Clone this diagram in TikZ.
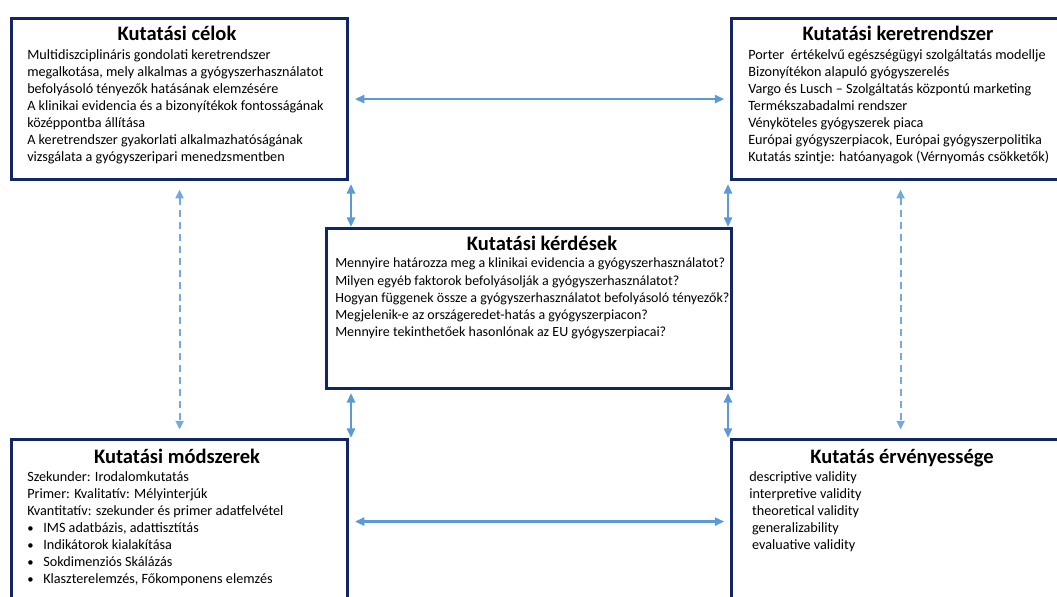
\documentclass[tikz,border=0pt]{standalone}
\usepackage{fontspec}
\setmainfont{Carlito}
\usetikzlibrary{arrows.meta,calc}
\definecolor{navy}{RGB}{16,38,102}
\definecolor{skyb}{RGB}{91,155,213}
\tikzset{
  box/.style={draw=navy,line width=2.2pt,inner sep=0pt,anchor=north west},
  ttl/.style={font=\fontsize{14.6}{16}\selectfont\bfseries,anchor=base,inner sep=0pt},
  txt/.style={font=\fontsize{10.1}{12.1}\selectfont,align=left,anchor=north west,inner sep=0pt},
  dar/.style={{Triangle[length=2.4mm,width=2mm]}-{Triangle[length=2.4mm,width=2mm]},
              draw=skyb,line width=1.8pt},
  dsh/.style={{Triangle[length=2.2mm,width=2mm]}-{Triangle[length=2.2mm,width=2mm]},
              draw=skyb!85,line width=1.4pt,dash pattern=on 5pt off 3.5pt},
}
\newcommand{\bl}{\makebox[0.4cm][l]{\small\textbullet}}

\begin{document}
\begin{tikzpicture}[x=0.025cm,y=-0.025cm]
  \useasboundingbox (0,0) rectangle (1057,597);
  \clip (0,0) rectangle (1057,597);
  % boxes
  \node[box,minimum width=8.4cm,minimum height=4.025cm]   (celok)   at (10,17)  {};
  \node[box,minimum width=8.45cm,minimum height=4.025cm]  (keret)   at (730,17) {};
  \node[box,minimum width=10.125cm,minimum height=4cm]    (kerdes)  at (325,227){};
  \node[box,minimum width=8.4cm,minimum height=4.1cm]     (modszer) at (10,438) {};
  \node[box,minimum width=8.45cm,minimum height=4.1cm]    (ervenyes)at (730,438){};
  % titles and texts
  \node[ttl] (celokT) at (177,41) {Kutatási célok};
  \node[txt] (celokB) at (27,49) {Multidiszciplináris gondolati keretrendszer\\
    megalkotása, mely alkalmas a gyógyszerhasználatot\\
    befolyásoló tényezők hatásának elemzésére\\
    A klinikai evidencia és a bizonyítékok fontosságának\\
    középpontba állítása\\
    A keretrendszer gyakorlati alkalmazhatóságának\\
    vizsgálata a gyógyszeripari menedzsmentben};
  \node[ttl] (keretT) at (898,41) {Kutatási keretrendszer};
  \node[txt] (keretB) at (748,49) {Porter\ \ értékelvű egészségügyi szolgáltatás modellje\\
    Bizonyítékon alapuló gyógyszerelés\\
    Vargo és Lusch – Szolgáltatás központú marketing\\
    Termékszabadalmi rendszer\\
    Vényköteles gyógyszerek piaca\\
    Európai gyógyszerpiacok, Európai gyógyszerpolitika\\
    Kutatás szintje: hatóanyagok (Vérnyomás csökketők)};
  \node[ttl] (kerdesT) at (542,250) {Kutatási kérdések};
  \node[txt,font=\fontsize{9.95}{12.1}\selectfont] (kerdesB) at (335,258) {Mennyire határozza meg a klinikai evidencia a gyógyszerhasználatot?\\
    Milyen egyéb faktorok befolyásolják a gyógyszerhasználatot?\\
    Hogyan függenek össze a gyógyszerhasználatot befolyásoló tényezők?\\
    Megjelenik-e az országeredet-hatás a gyógyszerpiacon?\\
    Mennyire tekinthetőek hasonlónak az EU gyógyszerpiacai?};
  \node[ttl] (modszerT) at (177,463) {Kutatási módszerek};
  \node[txt] (modszerB) at (27,471) {Szekunder: Irodalomkutatás\\
    Primer: Kvalitatív: Mélyinterjúk\\
    Kvantitatív: szekunder és primer adatfelvétel\\
    \bl IMS adatbázis, adattisztítás\\
    \bl Indikátorok kialakítása\\
    \bl Sokdimenziós Skálázás\\
    \bl Klaszterelemzés, Főkomponens elemzés};
  \node[ttl] (ervenyesT) at (902,463) {Kutatás érvényessége};
  \node[txt] (ervenyesB) at (749,471) {descriptive validity\\
    interpretive validity\\
    \hspace{2pt}theoretical validity\\
    \hspace{2pt}generalizability\\
    \hspace{2pt}evaluative validity};
  % connectors
  \coordinate (vl) at (351,0);
  \coordinate (vr) at (728,0);
  \draw[dar,shorten <=4pt,shorten >=4pt] (celok.east) -- (keret.west);
  \draw[dar,shorten <=4pt,shorten >=4pt] (modszer.east) -- (ervenyes.west);
  \draw[dar,shorten <=2pt] (vl |- celok.south) -- (vl |- kerdes.north);
  \draw[dar,shorten <=2pt] (vr |- keret.south) -- (vr |- kerdes.north);
  \draw[dar,shorten <=2pt] (vl |- kerdes.south) -- (vl |- modszer.north);
  \draw[dar,shorten <=2pt] (vr |- kerdes.south) -- (vr |- ervenyes.north);
  \draw[dsh,shorten <=6pt,shorten >=6pt] (celok.south) -- (modszer.north);
  \draw[dsh,shorten <=6pt,shorten >=6pt] (keret.south) -- (ervenyes.north);
\end{tikzpicture}
\end{document}
